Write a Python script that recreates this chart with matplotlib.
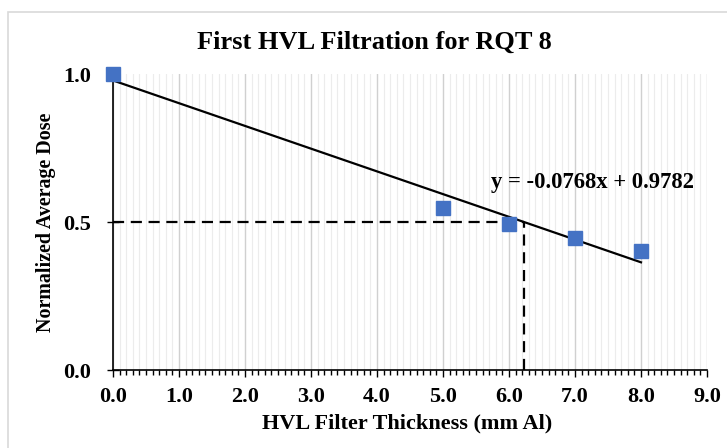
import numpy as np
import matplotlib.pyplot as plt
from matplotlib.patches import Rectangle
from matplotlib.ticker import MultipleLocator

# dati
thickness = [0.0, 5.0, 6.0, 7.0, 8.0]
dose = [1.0, 0.547, 0.493, 0.446, 0.402]
slope, intercept = -0.0768, 0.9782
hvl = (0.5 - intercept) / slope

plt.rcParams['font.family'] = ['Liberation Serif', 'DejaVu Serif']
plt.rcParams['font.weight'] = 'bold'

W, H = 727, 448
fig = plt.figure(figsize=(W / 100, H / 100), dpi=100)
ax = fig.add_axes([113/W, 1 - 370/H, 594/W, 296/H])

# cornice grigia del grafico
fig.patches.append(Rectangle((8/W, -0.1), 1.2, 1 - 12/H + 0.1, transform=fig.transFigure,
                             fill=False, edgecolor='#d9d9d9', linewidth=1.2))

ax.set_xlim(0, 9)
ax.set_ylim(0, 1)
ax.xaxis.set_major_locator(MultipleLocator(1))
ax.xaxis.set_minor_locator(MultipleLocator(0.1))
ax.yaxis.set_major_locator(MultipleLocator(0.5))
ax.grid(axis='x', which='major', color='#d0d0d0', linewidth=1.0)
ax.grid(axis='x', which='minor', color='#ececec', linewidth=0.8)
ax.set_axisbelow(True)
for s in ['top', 'right']:
    ax.spines[s].set_visible(False)
ax.spines['left'].set_linewidth(1.2)
ax.spines['bottom'].set_linewidth(1.2)
ax.tick_params(axis='x', which='major', direction='out', length=5, width=1.0, labelsize=16, pad=7)
ax.tick_params(axis='x', which='minor', direction='out', length=3.5, width=1.0)
ax.tick_params(axis='y', which='major', direction='inout', length=9, width=1.0, labelsize=16, pad=11)
ax.xaxis.set_major_formatter(plt.FormatStrFormatter('%.1f'))
ax.yaxis.set_major_formatter(plt.FormatStrFormatter('%.1f'))

# retta di regressione
xs = np.array([0.0, 8.0])
ax.plot(xs, slope * xs + intercept, color='black', linewidth=1.6, zorder=3)
ax.plot(thickness, dose, 's', color='#4472C4', markersize=10, zorder=4, clip_on=False)

# linee tratteggiate HVL
ax.plot([0, hvl], [0.5, 0.5], color='black', linestyle=(0, (5, 3)), linewidth=1.6, zorder=3)
ax.plot([hvl, hvl], [0, 0.5], color='black', linestyle=(0, (5, 3)), linewidth=1.6, zorder=3)

ax.text(5.72, 0.635, 'y = -0.0768x + 0.9782', fontsize=16.3, fontweight='bold', va='center', ha='left')

fig.text(374/W, 1 - 42/H, 'First HVL Filtration for RQT 8',
         fontsize=19, fontweight='bold', ha='center', va='center')
fig.text(407/W, 1 - 423/H, 'HVL Filter Thickness (mm Al)',
         fontsize=16, fontweight='bold', ha='center', va='center')
fig.text(46/W, 1 - 222/H, 'Normalized Average Dose', rotation=90,
         fontsize=14.4, fontweight='bold', ha='center', va='center')

fig.savefig('out.png', dpi=100)
